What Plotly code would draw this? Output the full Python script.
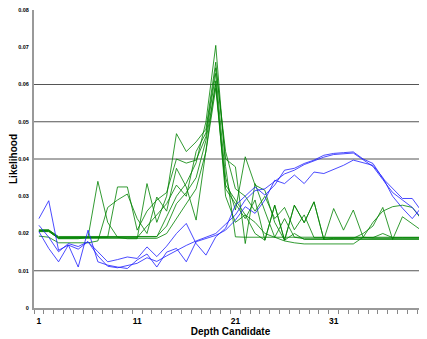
import plotly.graph_objects as go

depth = list(range(1, 41))

blue_1 = [0.0240, 0.0288, 0.0155, 0.0169, 0.0110, 0.0209, 0.0124, 0.0115, 0.0110, 0.0106,
          0.0129, 0.0145, 0.0110, 0.0150, 0.0160, 0.0124, 0.0178, 0.0187, 0.0195, 0.0209,
          0.0236, 0.0272, 0.0254, 0.0290, 0.0343, 0.0334, 0.0357, 0.0334, 0.0365, 0.0361,
          0.0372, 0.0383, 0.0397, 0.0390, 0.0383, 0.0350, 0.0300, 0.0268, 0.0240, 0.0272]
blue_2 = [0.0222, 0.0190, 0.0151, 0.0173, 0.0165, 0.0178, 0.0151, 0.0124, 0.0130, 0.0137,
          0.0133, 0.0164, 0.0138, 0.0166, 0.0200, 0.0227, 0.0173, 0.0142, 0.0191, 0.0214,
          0.0276, 0.0300, 0.0325, 0.0303, 0.0330, 0.0370, 0.0375, 0.0388, 0.0397, 0.0410,
          0.0415, 0.0417, 0.0419, 0.0400, 0.0388, 0.0348, 0.0320, 0.0294, 0.0294, 0.0258]
blue_3 = [0.0205, 0.0160, 0.0124, 0.0169, 0.0158, 0.0178, 0.0140, 0.0112, 0.0108, 0.0115,
          0.0120, 0.0135, 0.0125, 0.0140, 0.0155, 0.0168, 0.0180, 0.0190, 0.0200, 0.0225,
          0.0250, 0.0290, 0.0315, 0.0320, 0.0340, 0.0360, 0.0370, 0.0385, 0.0395, 0.0405,
          0.0412, 0.0415, 0.0416, 0.0398, 0.0380, 0.0345, 0.0310, 0.0290, 0.0270, 0.0240]

green_1 = [0.0210, 0.0210, 0.0190, 0.0190, 0.0190, 0.0190, 0.0190, 0.0190, 0.0190, 0.0190,
           0.0190, 0.0190, 0.0191, 0.0245, 0.0300, 0.0335, 0.0390, 0.0500, 0.0705, 0.0380,
           0.0191, 0.0190, 0.0190, 0.0190, 0.0190, 0.0190, 0.0190, 0.0190, 0.0190, 0.0190,
           0.0190, 0.0190, 0.0190, 0.0190, 0.0190, 0.0190, 0.0190, 0.0190, 0.0190, 0.0190]
green_2 = [0.0207, 0.0207, 0.0186, 0.0186, 0.0186, 0.0190, 0.0340, 0.0230, 0.0190, 0.0186,
           0.0186, 0.0334, 0.0230, 0.0300, 0.0468, 0.0420, 0.0446, 0.0480, 0.0660, 0.0400,
           0.0379, 0.0173, 0.0334, 0.0260, 0.0190, 0.0240, 0.0190, 0.0186, 0.0186, 0.0186,
           0.0186, 0.0186, 0.0186, 0.0186, 0.0186, 0.0186, 0.0186, 0.0186, 0.0186, 0.0186]
green_3 = [0.0205, 0.0205, 0.0188, 0.0188, 0.0188, 0.0188, 0.0188, 0.0190, 0.0325, 0.0325,
           0.0209, 0.0260, 0.0290, 0.0310, 0.0400, 0.0389, 0.0397, 0.0460, 0.0630, 0.0350,
           0.0263, 0.0406, 0.0330, 0.0316, 0.0230, 0.0182, 0.0276, 0.0229, 0.0285, 0.0184,
           0.0267, 0.0209, 0.0263, 0.0190, 0.0188, 0.0188, 0.0188, 0.0188, 0.0188, 0.0188]
green_4 = [0.0193, 0.0190, 0.0175, 0.0175, 0.0175, 0.0175, 0.0180, 0.0270, 0.0290, 0.0306,
           0.0240, 0.0200, 0.0298, 0.0260, 0.0375, 0.0325, 0.0236, 0.0420, 0.0610, 0.0300,
           0.0230, 0.0250, 0.0200, 0.0182, 0.0276, 0.0182, 0.0200, 0.0184, 0.0184, 0.0184,
           0.0184, 0.0184, 0.0184, 0.0184, 0.0184, 0.0184, 0.0184, 0.0184, 0.0184, 0.0184]
green_5 = [0.0209, 0.0209, 0.0192, 0.0192, 0.0192, 0.0192, 0.0192, 0.0192, 0.0192, 0.0192,
           0.0192, 0.0192, 0.0192, 0.0220, 0.0280, 0.0310, 0.0350, 0.0450, 0.0600, 0.0330,
           0.0290, 0.0250, 0.0230, 0.0200, 0.0190, 0.0180, 0.0175, 0.0172, 0.0172, 0.0172,
           0.0172, 0.0172, 0.0172, 0.0190, 0.0230, 0.0260, 0.0272, 0.0276, 0.0270, 0.0236]
green_6 = [0.0206, 0.0206, 0.0187, 0.0187, 0.0187, 0.0187, 0.0187, 0.0187, 0.0187, 0.0187,
           0.0187, 0.0187, 0.0187, 0.0200, 0.0240, 0.0280, 0.0320, 0.0420, 0.0590, 0.0320,
           0.0280, 0.0240, 0.0290, 0.0182, 0.0276, 0.0182, 0.0276, 0.0229, 0.0285, 0.0184,
           0.0187, 0.0187, 0.0187, 0.0200, 0.0220, 0.0270, 0.0184, 0.0245, 0.0225, 0.0207]
green_7 = [0.0208, 0.0208, 0.0189, 0.0189, 0.0189, 0.0189, 0.0189, 0.0189, 0.0189, 0.0189,
           0.0189, 0.0220, 0.0250, 0.0280, 0.0330, 0.0300, 0.0420, 0.0470, 0.0645, 0.0420,
           0.0320, 0.0300, 0.0260, 0.0300, 0.0240, 0.0270, 0.0210, 0.0250, 0.0189, 0.0189,
           0.0189, 0.0189, 0.0189, 0.0189, 0.0189, 0.0200, 0.0189, 0.0189, 0.0189, 0.0189]

blue_series = [blue_1, blue_2, blue_3]
green_series = [green_1, green_2, green_3, green_4, green_5, green_6, green_7]

y_tick_vals = [0, 0.01, 0.02, 0.03, 0.04, 0.05, 0.06, 0.07, 0.08]
y_tick_text = ["0", "0.01", "0.02", "0.03", "0.04", "0.05", "0.06", "0.07", "0.08"]
x_tick_vals = [1, 11, 21, 31]
x_tick_text = ["1", "11", "21", "31"]
grid_levels = [0.01, 0.04, 0.05, 0.06]

fig = go.Figure()
for s in green_series:
    fig.add_trace(go.Scatter(x=depth, y=s, mode="lines",
                             line=dict(color="rgba(0,130,0,0.8)", width=1),
                             showlegend=False, hoverinfo="skip"))
for s in blue_series:
    fig.add_trace(go.Scatter(x=depth, y=s, mode="lines",
                             line=dict(color="rgba(30,30,255,0.8)", width=1),
                             showlegend=False, hoverinfo="skip"))

for g in grid_levels:
    fig.add_shape(type="line", xref="paper", x0=0, x1=1, yref="y", y0=g, y1=g,
                  line=dict(color="#555555", width=1), layer="below")

fig.update_layout(
    template="none",
    width=419, height=331,
    margin=dict(l=26, r=0, t=2, b=31, autoexpand=False),
    paper_bgcolor="white", plot_bgcolor="white",
    font=dict(family="Liberation Sans, Arial, sans-serif", color="black"),
    xaxis=dict(range=[0.5, 40.5], tickmode="array", tickvals=x_tick_vals,
               ticktext=x_tick_text, ticks="", showgrid=False, zeroline=False,
               showline=True, linecolor="#999999", linewidth=2, automargin=False,
               tickfont=dict(size=8.5, weight="bold"), ticklabelstandoff=4,
               ticklabeloverflow="allow",
               minor=dict(tick0=0.5, dtick=1, ticks="outside", ticklen=4,
                          tickcolor="#888888", showgrid=False),
               title=dict(text="Depth Candidate", font=dict(size=10, weight="bold"),
                          standoff=0)),
    yaxis=dict(range=[0, 0.08], tickmode="array", tickvals=y_tick_vals,
               ticktext=y_tick_text, ticks="", showgrid=False, zeroline=False,
               showline=True, linecolor="#999999", linewidth=2, automargin=False,
               tickfont=dict(size=5.5, weight="bold"), ticklabelstandoff=2,
               ticklabeloverflow="allow",
               title=dict(text="Likelihood", font=dict(size=10, weight="bold"),
                          standoff=2)),
)

fig.write_html("out.html")
